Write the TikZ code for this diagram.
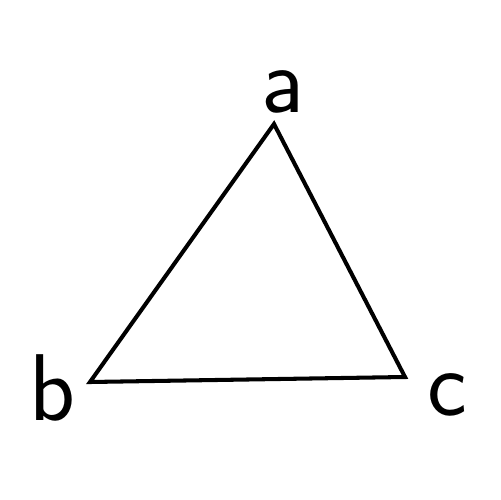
\documentclass[tikz,border=0pt]{standalone}
\tikzset{
  edge/.style={
    line width=2.3pt,
    line join=miter,
    draw=black
  },
  letter/.style={inner sep=0pt, font=\sffamily\fontsize{54}{54}\selectfont}
}

\begin{document}
\begin{tikzpicture}[x=0.02cm,y=-0.02cm]
  \useasboundingbox (0,0) rectangle (500,500);
  % Define corners
  \coordinate (va) at (274,124);
  \coordinate (vb) at (90,382);
  \coordinate (vc) at (405,377);
  % Draw triangle
  \draw[edge] (va) -- (vb) -- (vc) -- cycle;
  % Corner letters
  \node[letter] (a) at (283,92) {a};
  \node[letter] (b) at (52,388) {b};
  \node[letter] (c) at (447,395) {c};
\end{tikzpicture}
\end{document}
